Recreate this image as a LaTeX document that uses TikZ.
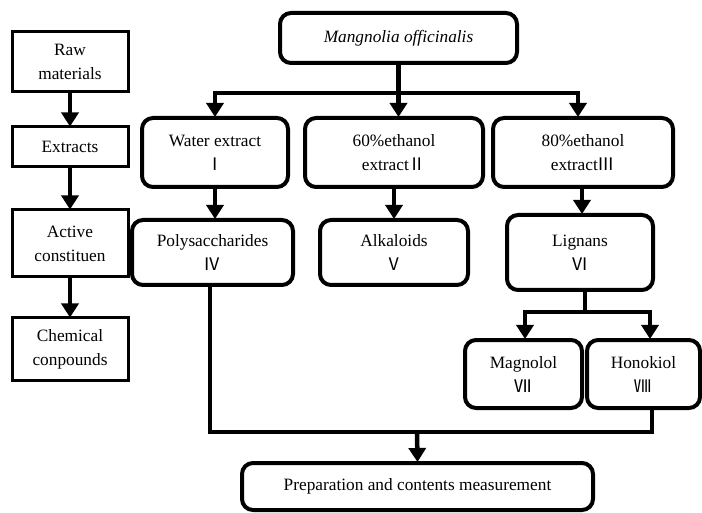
\documentclass[tikz,border=0pt]{standalone}
\usepackage{fontspec}
\setmainfont{Liberation Serif}
\newfontfamily\cjk{Noto Sans CJK SC}
\usetikzlibrary{arrows.meta}
\begin{document}
\begin{tikzpicture}[x=1pt,y=-1pt,
  every node/.style={font=\fontsize{17.3}{24}\selectfont, align=center, inner sep=0pt},
  sqbox/.style={draw, line width=3pt, minimum width=116pt},
  rbox/.style={draw, line width=4pt, rounded corners=11pt},
  conn/.style={line width=4.5pt},
  arr/.style={line width=4.5pt, -{Triangle[width=17pt,length=14pt]}, shorten >=-1pt}
]
\useasboundingbox (0,0) rectangle (702,513);
% left column
\node[sqbox, minimum height=60pt] (raw) at (70,62) {\fontsize{17.3}{30}\selectfont Raw\\materials};
\node[sqbox, minimum height=40pt] (ext) at (70,147) {Extracts};
\node[sqbox, minimum height=67pt] (act) at (70,243.5) {Active\\constituen};
\node[sqbox, minimum height=62pt] (chem) at (70,349) {Chemical\\conpounds};
\draw[arr] (raw.south) -- (ext.north);
\draw[arr] (ext.south) -- (act.north);
\draw[arr] (act.south) -- (chem.north);
% main tree
\node[rbox, minimum width=237pt, minimum height=50pt] (mag) at (398.5,38) {\itshape Mangnolia officinalis};
\node[rbox, minimum width=146pt, minimum height=69pt] (water) at (215,152.5) {Water extract\\{\cjk Ⅰ}};
\node[rbox, minimum width=178pt, minimum height=69pt] (e60) at (394,152.5) {60\%ethanol\\extract{\cjk Ⅱ}};
\node[rbox, minimum width=180pt, minimum height=69pt] (e80) at (583,152.5) {80\%ethanol\\extract{\cjk Ⅲ}};
\node[rbox, minimum width=161pt, minimum height=65pt] (poly) at (212.5,252.5) {Polysaccharides\\{\cjk Ⅳ}};
\node[rbox, minimum width=148pt, minimum height=65pt] (alk) at (394,252.5) {Alkaloids\\{\cjk Ⅴ}};
\node[rbox, minimum width=146pt, minimum height=75pt] (lig) at (580,252.5) {\fontsize{17.3}{25}\selectfont Lignans\\{\cjk Ⅵ}};
\node[rbox, minimum width=117pt, minimum height=68pt] (magn) at (523.5,374) {Magnolol\\{\cjk Ⅶ}};
\node[rbox, minimum width=113pt, minimum height=68pt] (hono) at (643.5,374) {Honokiol\\{\cjk Ⅷ}};
\node[rbox, minimum width=351pt, minimum height=47pt] (prep) at (417.5,486.5) {Preparation and contents measurement};
% connectors
\coordinate (j1) at (398,93);
\draw[arr] (mag.south) -- (mag.south |- e60.north);
\draw[arr] (j1) -| (water.north);
\draw[arr] (j1) -| ([xshift=-5pt]e80.north);
\draw[arr] (water.south) -- (poly.north -| water.south);
\draw[arr] (e60.south) -- (alk.north);
\coordinate (a80) at ([xshift=-1pt]e80.south);
\draw[arr] (a80) -- (a80 |- lig.north);
\coordinate (j2) at (585,312);
\coordinate (m1) at ([xshift=1.5pt]magn.north);
\coordinate (h1) at ([xshift=6.5pt]hono.north);
\draw[conn] (lig.south -| j2) -- (j2);
\draw[arr] (j2) -| (m1);
\draw[arr] (j2) -| (h1);
\coordinate (j3) at (417,432);
\draw[conn] ([xshift=-2.5pt]poly.south) |- (j3) -| ([xshift=8.5pt]hono.south);
\draw[arr] (j3) -- (prep.north);
\end{tikzpicture}
\end{document}
